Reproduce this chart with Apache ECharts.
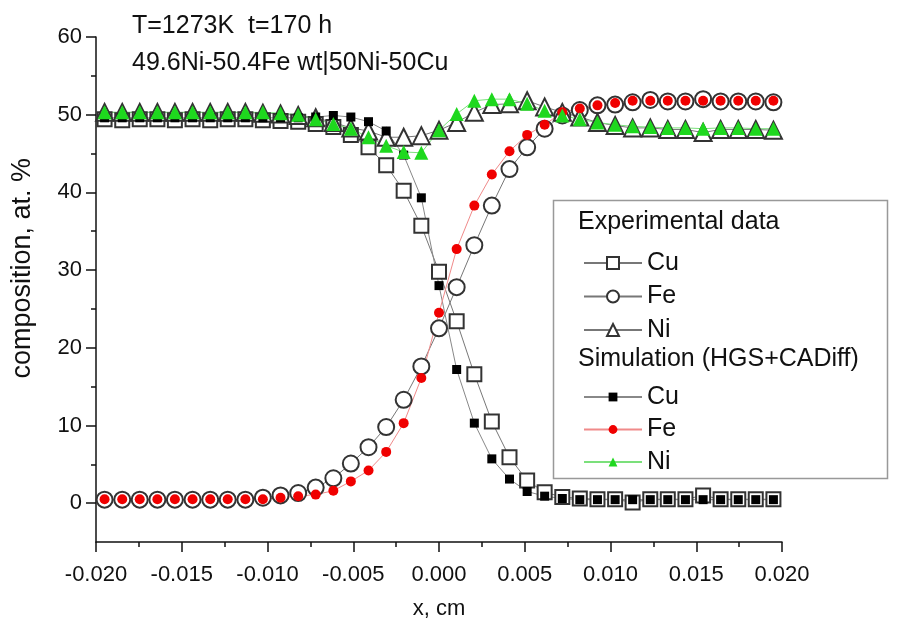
<!DOCTYPE html>
<html lang="en">
<head>
  <meta charset="UTF-8">
  <title>Ni-Fe / Ni-Cu diffusion couple</title>
  <script src="https://cdn.jsdelivr.net/npm/echarts@6/dist/echarts.min.js"></script>
  <style>
    html, body { margin: 0; padding: 0; background: #fff; }
    #main { width: 901px; height: 632px; }
  </style>
</head>
<body>
<div id="main"></div>
<script>
  // x positions of the measured / simulated points (cm)
  var xPos = [-0.0195, -0.01847, -0.01745, -0.01642, -0.0154, -0.01437, -0.01334, -0.01232, -0.01129, -0.01027,
    -0.00924, -0.00821, -0.00719, -0.00616, -0.00514, -0.00411, -0.00308, -0.00206, -0.00103, 0.0,
    0.00103, 0.00206, 0.00308, 0.00411, 0.00514, 0.00616, 0.00719, 0.00821, 0.00924, 0.01027,
    0.01129, 0.01232, 0.01334, 0.01437, 0.0154, 0.01642, 0.01745, 0.01847, 0.0195];

  // experimental data, at. %
  var expCu = [49.4, 49.3, 49.4, 49.4, 49.3, 49.4, 49.3, 49.4, 49.4, 49.3,
    49.2, 49.1, 48.8, 48.4, 47.4, 45.8, 43.5, 40.2, 35.7, 29.8,
    23.4, 16.6, 10.5, 5.9, 2.9, 1.4, 0.8, 0.6, 0.5, 0.5,
    0.1, 0.5, 0.5, 0.5, 1.0, 0.5, 0.5, 0.5, 0.5];
  var expFe = [0.45, 0.45, 0.45, 0.45, 0.45, 0.45, 0.45, 0.45, 0.45, 0.7,
    1.0, 1.3, 2.0, 3.2, 5.1, 7.2, 9.8, 13.3, 17.6, 22.5,
    27.8, 33.2, 38.3, 43.0, 45.8, 48.2, 49.9, 50.6, 51.2, 51.3,
    51.6, 51.9, 51.7, 51.7, 52.0, 51.7, 51.7, 51.7, 51.6];
  var expNi = [50.3, 50.3, 50.3, 50.3, 50.3, 50.3, 50.3, 50.3, 50.3, 50.2,
    50.1, 49.9, 49.6, 49.0, 48.3, 47.9, 47.1, 47.1, 47.3, 48.0,
    49.0, 50.3, 51.3, 51.4, 51.8, 51.0, 50.3, 49.7, 49.0, 48.6,
    48.3, 48.3, 48.1, 48.1, 47.7, 48.1, 48.1, 48.1, 48.0];

  // simulation (HGS+CADiff), at. %
  var simCu = [49.6, 49.6, 49.6, 49.6, 49.6, 49.6, 49.6, 49.6, 49.6, 49.6,
    49.6, 49.6, 49.7, 49.9, 49.7, 49.1, 47.9, 44.8, 39.3, 28.0,
    17.2, 10.3, 5.7, 3.1, 1.5, 0.9, 0.6, 0.45, 0.45, 0.45,
    0.45, 0.45, 0.45, 0.45, 0.45, 0.45, 0.45, 0.45, 0.45];
  var simFe = [0.5, 0.5, 0.5, 0.5, 0.5, 0.5, 0.5, 0.5, 0.5, 0.5,
    0.7, 0.9, 1.1, 1.6, 2.8, 4.2, 6.6, 10.3, 16.1, 24.5,
    32.7, 38.3, 42.3, 45.3, 47.4, 48.7, 50.3, 50.8, 51.2, 51.5,
    51.8, 51.8, 51.8, 51.8, 51.8, 51.8, 51.8, 51.8, 51.8];
  var simNi = [50.3, 50.3, 50.3, 50.3, 50.3, 50.3, 50.3, 50.3, 50.3, 50.3,
    50.2, 50.0, 49.4, 48.8, 48.2, 47.1, 46.0, 45.2, 45.1, 48.0,
    50.1, 51.8, 52.0, 52.0, 51.4, 50.5, 49.9, 49.4, 49.0, 48.7,
    48.5, 48.4, 48.3, 48.3, 48.2, 48.3, 48.3, 48.2, 48.2];

  var yMajor = [0, 10, 20, 30, 40, 50, 60];
  var yMinor = [5, 15, 25, 35, 45, 55];

  var font = "'Liberation Sans', Arial, sans-serif";

  function pairs(ys) {
    return xPos.map(function (x, i) { return [x, ys[i]]; });
  }

  var myChart = echarts.init(document.getElementById('main'));

  myChart.setOption({
    backgroundColor: '#fff',
    animation: false,
    title: {
      text: 'T=1273K  t=170 h\n49.6Ni-50.4Fe wt|50Ni-50Cu',
      left: 127,
      top: 3,
      textStyle: {fontFamily: font, fontSize: 25, fontWeight: 'normal', color: '#111', lineHeight: 37}
    },
    legend: [
      {
        data: ['Cu', 'Fe', 'Ni'],
        orient: 'vertical',
        left: 578,
        top: 245,
        itemWidth: 58,
        itemHeight: 15,
        itemGap: 7.5,
        textStyle: {fontFamily: font, fontSize: 25, color: '#111', lineHeight: 26}
      },
      {
        data: ['Cu (sim)', 'Fe (sim)', 'Ni (sim)'],
        orient: 'vertical',
        left: 578,
        top: 379,
        itemWidth: 58,
        itemHeight: 11,
        itemGap: 6.5,
        formatter: function (name) { return name.replace(' (sim)', ''); },
        textStyle: {fontFamily: font, fontSize: 25, color: '#111', lineHeight: 26}
      }
    ],
    graphic: [
      {
        type: 'rect',
        left: 551, top: 198,
        shape: {width: 334, height: 278},
        style: {fill: 'none', stroke: '#999', lineWidth: 1.5},
        z: 0
      },
      {
        type: 'text', left: 578, top: 210,
        style: {text: 'Experimental data', font: '25px ' + font, fill: '#111'}
      },
      {
        type: 'text', left: 578, top: 347,
        style: {text: 'Simulation (HGS+CADiff)', font: '25px ' + font, fill: '#111'}
      },
      {
        type: 'text', left: 9, top: 158,
        rotation: Math.PI / 2,
        style: {text: 'composition, at. %', font: '27px ' + font, fill: '#111'}
      }
    ],
    grid: {left: 96, right: 119, top: 37, bottom: 90},
    xAxis: {
      type: 'value',
      min: -0.02,
      max: 0.02,
      interval: 0.005,
      name: 'x, cm',
      nameLocation: 'middle',
      nameGap: 56,
      nameTextStyle: {fontFamily: font, fontSize: 22, color: '#111'},
      axisLine: {onZero: false, lineStyle: {color: '#111', width: 1.5}},
      axisTick: {length: 10, lineStyle: {color: '#111', width: 1.5}},
      minorTick: {show: true, splitNumber: 2, length: 5, lineStyle: {color: '#111', width: 1.5}},
      splitLine: {show: false},
      axisLabel: {
        fontFamily: font, fontSize: 22, color: '#111', margin: 22,
        formatter: function (v) { return v.toFixed(3); }
      }
    },
    yAxis: [
      {
        type: 'value',
        min: -5,
        max: 60,
        axisLine: {show: true, onZero: false, lineStyle: {color: '#111', width: 1.5}},
        axisTick: {show: true, length: 10, customValues: yMajor, lineStyle: {color: '#111', width: 1.5}},
        axisLabel: {fontFamily: font, fontSize: 22, color: '#111', margin: 14, customValues: yMajor},
        splitLine: {show: false}
      },
      {
        type: 'value',
        min: -5,
        max: 60,
        position: 'left',
        offset: 0,
        axisLine: {show: false, onZero: false},
        axisTick: {show: true, length: 5, customValues: yMinor, lineStyle: {color: '#111', width: 1.5}},
        axisLabel: {show: false, customValues: yMinor},
        splitLine: {show: false}
      }
    ],
    series: [
      {
        name: 'Cu', type: 'line', data: pairs(expCu),
        symbol: 'emptyRect', symbolSize: 14,
        lineStyle: {color: '#777', width: 1},
        itemStyle: {color: '#333', borderWidth: 1.5}
      },
      {
        name: 'Fe', type: 'line', data: pairs(expFe),
        symbol: 'emptyCircle', symbolSize: 16,
        lineStyle: {color: '#777', width: 1},
        itemStyle: {color: '#333', borderWidth: 1.5}
      },
      {
        name: 'Ni', type: 'line', data: pairs(expNi),
        symbol: 'emptyTriangle', symbolSize: 17,
        lineStyle: {color: '#777', width: 1},
        itemStyle: {color: '#333', borderWidth: 1.5}
      },
      {
        name: 'Cu (sim)', type: 'line', data: pairs(simCu),
        symbol: 'rect', symbolSize: 9,
        lineStyle: {color: '#888', width: 1},
        itemStyle: {color: '#000'}
      },
      {
        name: 'Fe (sim)', type: 'line', data: pairs(simFe),
        symbol: 'circle', symbolSize: 10,
        lineStyle: {color: '#f08a8a', width: 1},
        itemStyle: {color: '#f00000'}
      },
      {
        name: 'Ni (sim)', type: 'line', data: pairs(simNi),
        symbol: 'triangle', symbolSize: 14,
        lineStyle: {color: '#7be07b', width: 1},
        itemStyle: {color: '#1ed81e'}
      }
    ]
  });
</script>
</body>
</html>
